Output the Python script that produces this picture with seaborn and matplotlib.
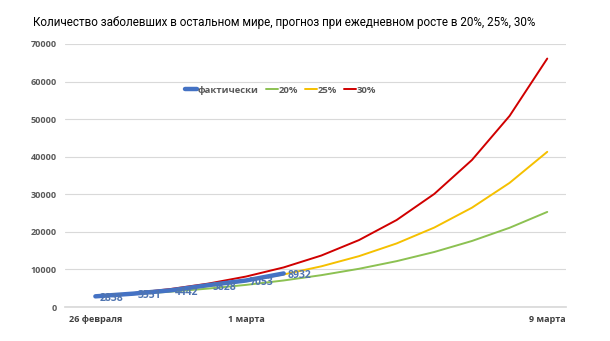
import matplotlib
matplotlib.use("Agg")
import matplotlib.pyplot as plt
import seaborn as sns
import pandas as pd
from matplotlib.lines import Line2D

sns.set_theme(style="white")
plt.rcParams['font.family'] = ['Open Sans', 'DejaVu Sans']

# Data (days from 26 Feb 2020 to 9 Mar 2020)
days = list(range(13))
tick_pos = [0, 4, 12]
tick_labels = ["26 февраля", "1 марта", "9 марта"]

actual = [2838, 3551, 4442, 5828, 7053, 8932]
g20 = [2838, 3406, 4087, 4904, 5885, 7062, 8474, 10169, 12203, 14643, 17572, 21087, 25304]
g25 = [2838, 3548, 4434, 5543, 6929, 8661, 10826, 13532, 16916, 21144, 26430, 33038, 41297]
g30 = [2838, 3689, 4796, 6235, 8106, 10537, 13699, 17808, 23151, 30096, 39125, 50863, 66121]

c_act = "#4472C4"
c20 = "#8CC152"
c25 = "#F5C000"
c30 = "#D00000"
c_lab = "#4F74B0"

fig = plt.figure(figsize=(6.10, 3.41), dpi=100)
ax = fig.add_axes([0.107, 0.0997, 0.821, 0.7713])

sns.lineplot(x=days, y=g20, color=c20, lw=1.4, ax=ax)
sns.lineplot(x=days, y=g25, color=c25, lw=1.4, ax=ax)
sns.lineplot(x=days, y=g30, color=c30, lw=1.4, ax=ax)
sns.lineplot(x=days[:len(actual)], y=actual, color=c_act, lw=3.2, ax=ax,
             solid_capstyle='round')

for d, v in zip(days, actual):
    ax.annotate(str(v), (d, v), xytext=(3, -1.5), textcoords='offset points',
                ha='left', va='center', fontsize=7.5, fontweight='bold', color=c_lab)

ax.set_xlim(-0.8, 12.5)
ax.set_ylim(0, 70000)
ax.set_yticks(range(0, 70001, 10000))
ax.set_yticklabels([str(v) for v in range(0, 70001, 10000)], fontsize=6.5,
                   fontweight='bold', color='#595959')
ax.set_xticks(tick_pos)
ax.set_xticklabels(tick_labels, fontsize=6.5, fontweight='bold', color='#404040')
ax.tick_params(axis='both', length=0, pad=6)
ax.grid(axis='y', color='#D9D9D9', lw=0.8)
for s in ['top', 'right', 'left']:
    ax.spines[s].set_visible(False)
ax.spines['bottom'].set_color('#D9D9D9')

handles = [Line2D([], [], color=c_act, lw=3.2, solid_capstyle='round'),
           Line2D([], [], color=c20, lw=1.4),
           Line2D([], [], color=c25, lw=1.4),
           Line2D([], [], color=c30, lw=1.4)]
leg = ax.legend(handles, ["фактически", "20%", "25%", "30%"], loc='center',
                bbox_to_anchor=(0.43, 0.825), ncol=4, frameon=False,
                handlelength=1.3, handletextpad=0.1, columnspacing=0.7,
                prop={'size': 6.8, 'weight': 'bold'})
for t in leg.get_texts():
    t.set_color('#595959')

fig.text(0.054, 0.935, "Количество заболевших в остальном мире, прогноз при ежедневном росте в 20%, 25%, 30%",
         fontsize=8.4, color='black', ha='left', va='center', family=['Roboto', 'DejaVu Sans'])

fig.savefig("out.png", dpi=100)
